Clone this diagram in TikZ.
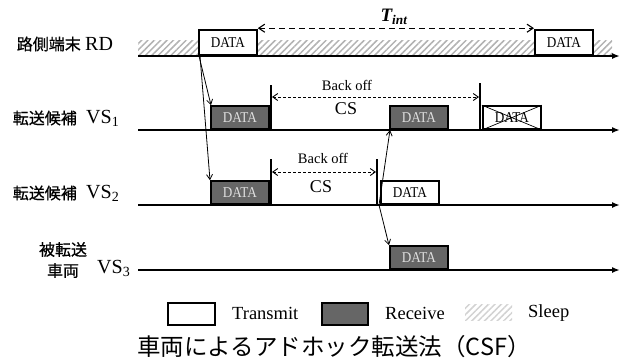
\documentclass[tikz,border=0pt]{standalone}
\usepackage{fontspec}
\setmainfont{Liberation Serif}
\newfontfamily\cjk{Noto Sans CJK JP}
\newfontfamily\cjkb[FakeBold=0.6]{Noto Sans CJK JP}
\newfontfamily\datafont[FakeStretch=0.88]{Liberation Serif}
\usetikzlibrary{arrows.meta,patterns.meta}
\definecolor{rxgray}{HTML}{666666}
\begin{document}
\begin{tikzpicture}[x=1pt,y=-1pt,
  axis/.style={line width=2pt,-{Latex[length=8pt,width=6pt]}},
  txbox/.style={draw,line width=1.8pt,fill=white,inner sep=0pt,minimum width=58pt,minimum height=23pt,anchor=south west,font=\datafont\fontsize{15}{16}\selectfont},
  rxbox/.style={txbox,fill=rxgray,text=gray!25},
  sleep/.style={pattern={Lines[angle=45,distance=4.5pt,line width=1.5pt]},pattern color=gray!60},
  msg/.style={line width=0.8pt,-{Straight Barb[length=5pt,width=6pt]}},
  vmark/.style={line width=1.5pt},
  bo/.style={line width=0.9pt,dash pattern=on 3pt off 2pt,{Straight Barb[length=5pt,width=7pt]}-{Straight Barb[length=5pt,width=7pt]}},
  tint/.style={line width=1.1pt,dash pattern=on 6pt off 4pt,{Straight Barb[length=6pt,width=8pt]}-{Straight Barb[length=6pt,width=8pt]}},
  lab/.style={inner sep=0pt,font=\fontsize{20}{22}\selectfont},
  cj/.style={inner sep=0pt,font=\cjkb\fontsize{16}{22}\selectfont},
  small/.style={inner sep=0pt,font=\fontsize{14.5}{16}\selectfont},
  big/.style={inner sep=0pt,font=\fontsize{18}{20}\selectfont},
  leg/.style={inner sep=0pt,anchor=west,font=\fontsize{18.5}{20}\selectfont}]
\useasboundingbox (0,0) rectangle (624,360);

% time axes
\coordinate (rdS) at (138,56);  \coordinate (rdE) at (620,56);
\coordinate (v1S) at (138,130); \coordinate (v1E) at (620,130);
\coordinate (v2S) at (138,205); \coordinate (v2E) at (620,205);
\coordinate (v3S) at (138,270); \coordinate (v3E) at (620,270);

% sleep band
\fill[sleep] (138,40) rectangle (612,56);

\draw[axis] (rdS) -- (rdE);
\draw[axis] (v1S) -- (v1E);
\draw[axis] (v2S) -- (v2E);
\draw[axis] (v3S) -- (v3E);

% left labels
\node[cj,anchor=east] (lrdj) at (81,44) {路側端末};
\node[lab,anchor=west] (lrd) at (85,44) {RD};
\node[cj,anchor=east] (lv1j) at (77,118) {転送候補};
\node[lab,anchor=west] (lv1) at (86,118) {VS\textsubscript{1}};
\node[cj,anchor=east] (lv2j) at (77,193) {転送候補};
\node[lab,anchor=west] (lv2) at (86,193) {VS\textsubscript{2}};
\node[cj,align=center] (lv3j) at (63,260) {被転送\\[-1pt]車両};
\node[lab,anchor=west] (lv3) at (97,268) {VS\textsubscript{3}};

% RD boxes
\node[txbox,minimum height=25pt] (rd1) at (198,56) {DATA};
\node[txbox,minimum height=25pt] (rd2) at (534,56) {DATA};
\draw[tint] ([yshift=1pt]rd1.north east) -- ([yshift=1pt]rd2.north west);
\node[inner sep=0pt,font=\fontsize{19}{20}\selectfont\bfseries\itshape] (tl) at (394,17) {T\textsubscript{int}};

% VS1
\node[rxbox] (v1r1) at (210,130) {DATA};
\node[rxbox] (v1r2) at (389,130) {DATA};
\node[txbox] (v1x) at (482,130) {DATA};
\draw[line width=0.7pt] (v1x.north west) -- (v1x.south east);
\draw[line width=0.7pt] (v1x.south west) -- (v1x.north east);
\coordinate (m1a) at (271,85);  \coordinate (m1b) at (271,130);
\coordinate (m2a) at (480,83);  \coordinate (m2b) at (480,130);
\draw[vmark] (m1a) -- (m1b);
\draw[vmark] (m2a) -- (m2b);
\coordinate (d1a) at (272,97); \coordinate (d1b) at (479,97);
\draw[bo] (d1a) -- (d1b);
\node[small] (bo1) at (347,85) {Back off};
\node[big] (cs1) at (346,109) {CS};

% VS2
\node[rxbox] (v2r) at (210,205) {DATA};
\node[txbox] (v2t) at (380,205) {DATA};
\coordinate (m3a) at (271,159); \coordinate (m3b) at (271,205);
\coordinate (m4a) at (377,159); \coordinate (m4b) at (377,205);
\draw[vmark] (m3a) -- (m3b);
\draw[vmark] (m4a) -- (m4b);
\coordinate (d2a) at (272,172); \coordinate (d2b) at (376,172);
\draw[bo] (d2a) -- (d2b);
\node[small] (bo2) at (323,158) {Back off};
\node[big] (cs2) at (321,187) {CS};

% VS3
\node[rxbox] (v3r) at (389,270) {DATA};

% messages
\draw[msg] ([xshift=1pt]rd1.south west) -- ([xshift=1pt]v1r1.north west);
\draw[msg] ([xshift=2pt]rd1.south west) -- (v2r.north west);
\draw[msg] ([xshift=-1pt]v2t.south west) -- ([xshift=1pt]v1r2.south west);
\draw[msg] ([xshift=-1pt]v2t.south west) -- (v3r.north west);

% legend
\node[draw,line width=1.5pt,fill=white,inner sep=0pt,minimum width=47pt,minimum height=22pt,anchor=north west] (lt) at (167,302) {};
\node[leg] (ltt) at (232,313) {Transmit};
\node[draw,line width=1.5pt,fill=rxgray,inner sep=0pt,minimum width=46pt,minimum height=22pt,anchor=north west] (lr) at (321,302) {};
\node[leg] (lrt) at (385,313) {Receive};
\node[sleep,pattern color=gray!35,inner sep=0pt,minimum width=47pt,minimum height=16pt,anchor=north west] (ls) at (465,304) {};
\node[leg] (lst) at (528,313) {Sleep};

% caption
\node[inner sep=0pt,font=\cjk\fontsize{23.5}{24}\selectfont] (cap) at (334,347) {車両によるアドホック転送法（CSF）};
\end{tikzpicture}
\end{document}
